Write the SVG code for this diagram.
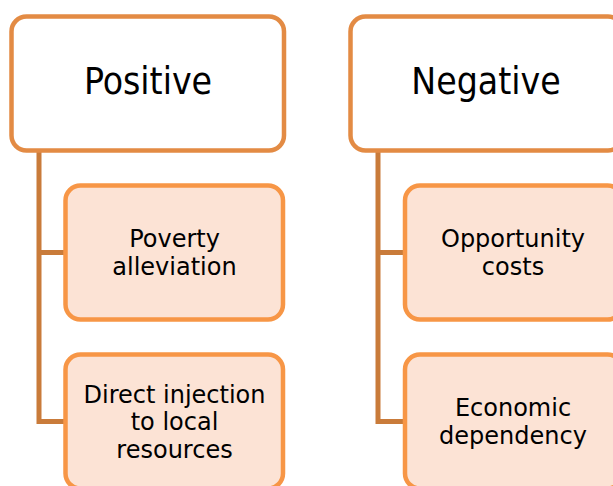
<svg xmlns="http://www.w3.org/2000/svg" width="613" height="486" viewBox="0 0 613 486">
<style>
.hdr{fill:#ffffff;stroke:#E38B44;stroke-width:4.5}
.child{fill:#FCE3D5;stroke:#F79646;stroke-width:4.5}
.conn{fill:none;stroke:#C97B3A;stroke-width:5;stroke-linejoin:miter}
.ht{font-family:"DejaVu Sans Condensed","DejaVu Sans",sans-serif;font-size:37px;fill:#000;text-anchor:middle}
.ct{font-family:"DejaVu Sans",sans-serif;font-size:24px;fill:#000;text-anchor:middle}
</style>
<rect width="613" height="486" fill="#ffffff"/>
<g id="connectors">
<path class="conn" d="M39,152 V421.5 H66 M39,252.5 H66"/>
<path class="conn" d="M378,152 V421.5 H405 M378,252.5 H405"/>
</g>
<g id="positive">
<rect class="hdr" x="11.5" y="16.5" width="272.5" height="134" rx="15"/>
<text class="ht" x="148" y="94">Positive</text>
</g>
<g id="negative">
<rect class="hdr" x="350.5" y="16.5" width="272.5" height="134" rx="15"/>
<text class="ht" x="486" y="94">Negative</text>
</g>
<g id="poverty">
<rect class="child" x="65.5" y="185.5" width="217.5" height="134" rx="15"/>
<text class="ct" x="174.5" y="247">Poverty</text>
<text class="ct" x="174.5" y="274.5">alleviation</text>
</g>
<g id="direct">
<rect class="child" x="65.5" y="354.5" width="217.5" height="134" rx="15"/>
<text class="ct" x="174.5" y="402.5">Direct injection</text>
<text class="ct" x="174.5" y="430">to local</text>
<text class="ct" x="174.5" y="457.5">resources</text>
</g>
<g id="opportunity">
<rect class="child" x="405" y="185.5" width="217.5" height="134" rx="15"/>
<text class="ct" x="513" y="247">Opportunity</text>
<text class="ct" x="513" y="274.5">costs</text>
</g>
<g id="economic">
<rect class="child" x="405" y="354.5" width="217.5" height="134" rx="15"/>
<text class="ct" x="513" y="416">Economic</text>
<text class="ct" x="513" y="443.5">dependency</text>
</g>
</svg>
